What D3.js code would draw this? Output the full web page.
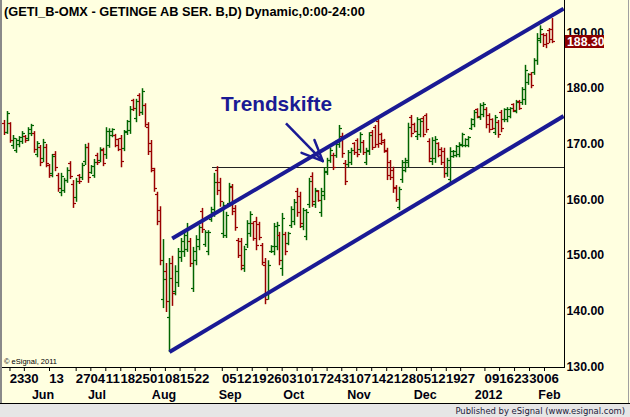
<!DOCTYPE html>
<html><head><meta charset="utf-8">
<script src="https://cdn.jsdelivr.net/npm/d3@7"></script>
<style>body{margin:0;background:#fff}svg{display:block}</style>
</head><body><svg id="c" width="630" height="417"></svg>
<script>
// ---------- DATA ----------
const high = [174.2,175.8,173.8,171.5,170.9,171.3,172.2,171.5,172.9,173.5,
172.2,170.4,169.7,170.8,169.9,166.3,168.1,168.6,164.7,164.7,
163.8,165.7,166.8,163.4,163.8,164.5,166.5,169.9,170.1,166.1,
167.2,168.3,169.3,169.2,172.9,172.7,172.7,171.7,170.9,171.5,
172.4,174.2,176.7,178.0,178.0,179.0,179.9,177.2,173.8,170.6,
165.6,161.3,158.7,152.8,148.5,149.4,149.8,148.1,151.2,153.0,
154.4,155.7,153.0,151.4,153.5,155.3,158.4,154.4,154.4,158.6,
164.7,165.9,163.8,159.5,157.7,162.9,162.7,158.9,153.0,153.0,
151.6,156.2,157.8,156.0,156.8,155.9,152.1,149.4,149.0,151.7,
155.7,155.9,154.1,157.5,154.1,154.1,158.7,160.0,162.0,161.3,
158.4,158.2,163.8,164.8,162.0,161.6,162.0,165.7,167.4,169.2,
168.3,170.6,173.3,171.9,167.0,168.8,169.2,170.2,170.9,172.0,
170.6,169.2,172.0,172.4,173.3,174.7,171.9,170.8,169.2,167.0,
165.8,162.5,162.2,167.0,167.4,173.7,175.1,173.7,174.7,174.5,
174.9,175.4,170.9,171.1,171.3,170.2,169.3,169.2,167.4,169.3,
168.8,169.7,170.2,171.9,170.9,171.3,174.5,176.0,176.3,177.2,
177.4,176.5,175.4,174.5,175.1,174.2,176.0,176.3,176.5,176.5,
177.2,177.8,177.8,180.1,184.1,182.6,182.8,185.3,189.8,191.2,
189.8,189.8,190.7,192.5];
const low = [171.5,171.7,170.1,169.0,168.3,169.3,169.9,170.1,170.4,171.3,
168.3,167.5,165.9,166.6,165.7,163.8,163.9,165.0,161.3,160.5,
161.1,162.9,163.6,158.4,159.5,162.7,163.4,166.1,162.9,164.5,
163.8,166.1,166.6,165.9,167.2,169.2,171.1,169.3,168.6,165.7,
168.6,171.5,171.7,175.8,173.8,174.9,175.1,172.9,167.9,164.8,
161.3,155.3,148.1,140.4,139.7,132.5,140.8,142.7,144.2,148.7,
149.6,150.5,147.8,143.3,148.1,150.8,153.9,151.4,149.9,155.9,
156.8,160.7,158.6,153.0,153.0,158.6,157.1,154.3,149.4,147.2,
146.9,151.2,153.2,152.5,150.8,152.6,148.1,141.1,141.9,150.3,
149.9,150.8,148.1,146.2,149.9,151.7,154.8,155.3,156.8,154.8,
154.4,152.6,158.4,158.6,158.4,159.5,156.8,159.8,164.3,166.5,
165.2,167.4,169.2,167.4,162.5,165.7,166.1,167.9,167.5,168.3,
167.9,166.1,167.9,168.8,169.2,169.2,169.7,168.3,163.4,163.4,
161.1,159.5,158.0,162.9,164.8,165.6,171.1,171.9,170.6,171.1,
171.1,171.9,166.6,166.1,166.5,167.5,166.1,163.8,164.0,162.5,
167.4,167.5,167.5,169.3,169.3,169.3,172.4,172.9,174.5,174.2,
174.7,172.7,171.9,172.4,171.5,171.0,172.0,173.8,173.8,174.5,
175.6,175.4,176.0,176.9,176.9,180.5,179.9,182.3,184.1,188.0,
187.3,187.1,188.0,188.0];
const open = [173.6,172.0,173.6,169.6,168.8,169.8,170.4,171.3,170.8,171.7,
171.8,168.0,169.2,167.2,169.3,166.0,164.5,168.0,164.2,161.2,
161.6,163.4,166.3,162.6,160.3,164.2,163.9,166.8,169.2,164.8,
164.3,167.9,167.0,168.7,168.0,169.7,171.4,171.4,170.6,170.9,
169.0,171.9,172.3,177.7,174.4,178.6,175.6,176.8,172.8,170.0,
165.2,160.8,158.0,142.0,147.0,138.8,148.5,143.3,145.0,149.5,
150.5,151.0,152.3,144.0,149.0,151.5,157.8,151.8,150.5,156.3,
157.5,165.2,163.0,153.8,153.5,159.2,162.0,158.3,152.5,152.3,
147.5,151.8,153.8,155.6,156.0,155.5,151.6,148.0,142.8,150.5,
150.6,151.5,153.5,147.5,153.6,152.0,155.3,155.9,161.3,160.5,
155.0,153.3,159.0,164.0,159.0,161.3,157.5,160.6,164.8,166.9,
167.9,167.9,169.8,171.2,166.4,166.2,166.6,169.9,170.5,168.9,
170.2,166.6,168.5,172.0,172.8,174.0,171.6,170.5,168.5,166.6,
165.2,162.1,158.5,163.5,165.2,166.5,174.7,173.4,171.2,171.5,
174.5,175.0,170.4,166.8,167.2,169.9,168.9,168.5,164.5,163.5,
167.6,167.9,168.0,169.7,169.6,169.6,172.7,173.4,176.1,174.6,
175.1,176.0,175.0,174.2,172.0,173.8,175.5,174.2,174.3,174.9,
177.0,175.8,177.5,177.3,177.8,180.9,182.4,182.8,184.8,188.5,
189.5,189.3,190.2,190.5];
const close = [171.9,175.3,170.5,170.9,170.5,171.0,171.8,170.5,172.4,173.2,
168.9,169.9,166.6,170.1,166.4,164.2,167.6,165.6,161.8,164.0,
163.4,165.2,164.1,159.2,163.2,163.1,166.0,169.3,163.8,165.8,
166.6,166.5,168.9,166.4,172.1,172.2,172.4,169.7,168.9,166.7,
172.1,173.9,176.1,176.2,177.5,175.5,179.3,173.4,168.6,165.5,
161.9,156.0,149.0,145.5,141.5,145.8,143.0,147.0,150.5,152.3,
153.5,154.8,148.5,150.5,152.7,154.8,154.5,154.0,153.9,158.1,
163.0,161.6,159.5,158.8,157.0,162.3,157.8,154.9,149.8,148.0,
151.0,155.6,157.2,152.9,151.6,153.0,148.6,142.0,148.0,151.4,
155.0,155.2,149.0,156.5,150.5,153.8,158.2,159.3,157.5,155.6,
157.9,157.5,163.1,159.5,161.5,159.8,161.3,165.0,166.9,168.7,
165.7,170.2,172.6,168.2,163.2,168.3,168.7,168.3,168.0,171.5,
168.3,168.7,171.4,169.3,169.8,170.0,170.1,168.7,164.2,163.9,
161.8,159.9,161.7,166.5,167.0,172.8,171.7,172.2,174.2,174.0,
171.6,172.4,167.2,170.5,170.7,167.9,166.6,164.6,167.0,168.5,
168.6,169.4,169.8,171.5,170.6,171.0,174.2,175.5,174.8,176.8,
177.0,173.3,172.4,172.7,174.7,171.5,172.6,176.0,176.1,176.2,
175.9,177.4,176.3,179.6,183.0,182.3,180.4,184.9,188.9,190.5,
187.8,187.9,188.6,188.3];

const priceTicks = [130,140,150,160,170,180,190];
const dayLabels = ["23","30","13","27","04","11","18","25","01","08","15","22",
  "05","12","19","26","03","10","17","24","31","07","14","21","28","05","12","19","27",
  "09","16","23","30","06"];
const dayIndex = [4,8.8,17.2,26.1,31,36,41,45.9,50.9,55.9,60.8,65.8,
  74.9,79.9,84.9,89.9,94.9,99.9,104.9,109.9,114.8,119.8,124.8,129.8,134.8,139.8,144.7,149.7,154.5,
  162.6,167.5,172.5,177.5,182.5];
const monthLabels = ["Jun","Jul","Aug","Sep","Oct","Nov","Dec","2012","Feb"];
const monthIndex = [12.7,30.7,53.1,75.2,96.4,118.2,140.3,161.5,181.8];
const lastPrice = 188.30;
const upperChannel = [[56,152.9],[186.7,194.2]];   // [bar index, price]
const lowerChannel = [[55.1,132.5],[186.7,174.9]];
const breakLevel = {from:69.3, price:165.6};
const arrowShaft = [[94,173.6],[106.3,166.8]];
const arrowHeadA = [103.5,170.6];
const arrowHeadB = [99.2,168.3];
const titleText = "(GETI_B-OMX - GETINGE AB SER. B,D) Dynamic,0:00-24:00";
const noteText = "Trendskifte";

// ---------- LAYOUT ----------
const W=630, H=417;
const plot = {left:2, top:0, right:564, bottom:367};
const UP="#006400", DOWN="#990000", NAVY="#1a1a94";
const FONT="Liberation Sans, Arial, sans-serif";
const svg = d3.select("#c");
svg.append("rect").attr("width",W).attr("height",H).attr("fill","#FFFFE0");

const x = d3.scaleLinear().domain([0,183]).range([4.5,552.5]);
const y = d3.scaleLinear().domain([130,190]).range([366,32]);
const px = v => Math.round(x(v)-0.5)+0.5;
const py = v => Math.round(y(v)-0.5)+0.5;

svg.append("clipPath").attr("id","clip").append("rect")
  .attr("x",plot.left).attr("y",plot.top).attr("width",plot.right-plot.left).attr("height",plot.bottom-plot.top);
const g = svg.append("g").attr("clip-path","url(#clip)");

// break level line
g.append("line").attr("x1",x(breakLevel.from)).attr("x2",plot.right)
  .attr("y1",py(breakLevel.price)).attr("y2",py(breakLevel.price))
  .attr("stroke","#222").attr("stroke-width",1).attr("shape-rendering","crispEdges");

// bars
const idx = d3.range(high.length);
const bars = g.append("g");
idx.forEach(i=>{
  const c = close[i]>=open[i]?UP:DOWN;
  const xc = px(i);
  bars.append("line").attr("x1",xc).attr("x2",xc).attr("y1",y(high[i])).attr("y2",y(low[i])).attr("stroke",c).attr("stroke-width",1.5);
  bars.append("line").attr("x1",xc-2.5).attr("x2",xc).attr("y1",py(open[i])).attr("y2",py(open[i])).attr("stroke",c).attr("stroke-width",1.2);
  bars.append("line").attr("x1",xc).attr("x2",xc+2.5).attr("y1",py(close[i])).attr("y2",py(close[i])).attr("stroke",c).attr("stroke-width",1.2);
});

// channel lines
[upperChannel,lowerChannel].forEach(l=>{
  g.append("line").attr("x1",x(l[0][0])).attr("y1",y(l[0][1])).attr("x2",x(l[1][0])).attr("y2",y(l[1][1]))
   .attr("stroke",NAVY).attr("stroke-width",4).attr("stroke-linecap","butt");
});

// arrow
const tip = arrowShaft[1];
g.append("line").attr("x1",x(arrowShaft[0][0])).attr("y1",y(arrowShaft[0][1])).attr("x2",x(tip[0])).attr("y2",y(tip[1]))
  .attr("stroke",NAVY).attr("stroke-width",2.5);
[arrowHeadA,arrowHeadB].forEach(h=>{
  g.append("line").attr("x1",x(h[0])).attr("y1",y(h[1])).attr("x2",x(tip[0])).attr("y2",y(tip[1]))
   .attr("stroke",NAVY).attr("stroke-width",2.5).attr("stroke-linecap","round");
});

// note text
const note = svg.append("text").attr("x",221).attr("y",111).text(noteText)
  .attr("font-family",FONT).attr("font-weight","bold")
  .attr("font-size",21).attr("fill",NAVY);
{ const w=note.node().getComputedTextLength(); note.attr("font-size",21*111/w); }

// title
const title = svg.append("text").attr("x",4).attr("y",16).text(titleText)
  .attr("font-family",FONT).attr("font-weight","bold")
  .attr("font-size",12.5).attr("fill","#000");
{ const w=title.node().getComputedTextLength(); title.attr("font-size",12.5*361/w); }

// frame
svg.append("line").attr("x1",plot.right+0.5).attr("x2",plot.right+0.5).attr("y1",0).attr("y2",plot.bottom+1).attr("stroke","#000");
svg.append("line").attr("x1",plot.left).attr("x2",plot.right+1).attr("y1",plot.bottom+0.5).attr("y2",plot.bottom+0.5).attr("stroke","#000");
svg.append("rect").attr("x",0).attr("y",0).attr("width",2).attr("height",403).attr("fill","#8a8a8a");

// right axis
const ya = svg.append("g").attr("transform",`translate(${plot.right+0.5},0)`)
  .call(d3.axisRight(y).tickValues(priceTicks).tickFormat(d3.format(".2f")).tickSize(0).tickPadding(2));
ya.select(".domain").remove();
ya.selectAll("text").attr("font-family",FONT).attr("font-weight","bold")
  .attr("font-size",12.3).attr("fill","#000010").attr("dy","0.35em");

// last price badge (drawn over the 190.00 label, as in the original)
const lp = svg.append("g");
lp.append("rect").attr("x",565).attr("y",Math.round(y(lastPrice))-6).attr("width",39).attr("height",13).attr("fill","#8B0000");
lp.append("text").attr("x",567).attr("y",y(lastPrice)+0.5).attr("dy","0.35em").text(lastPrice.toFixed(2))
  .attr("font-family",FONT).attr("font-weight","bold").attr("font-size",12.3).attr("fill","#fff");

// bottom axis (days)
const xa = svg.append("g").attr("transform",`translate(0,${plot.bottom+1})`)
  .call(d3.axisBottom(x).tickValues(dayIndex).tickFormat((d,i)=>dayLabels[i]).tickSize(3).tickPadding(0));
xa.select(".domain").remove();
xa.selectAll("line").attr("stroke","#000").attr("transform","translate(-7,0)");
xa.selectAll("text").attr("y",15).attr("dy",0).attr("font-family",FONT)
  .attr("font-weight","bold").attr("font-size",13.2).attr("fill","#000010");

// months
const ma = svg.append("g").attr("transform",`translate(0,${plot.bottom+1})`)
  .call(d3.axisBottom(x).tickValues(monthIndex).tickFormat((d,i)=>monthLabels[i]).tickSize(0));
ma.select(".domain").remove();
ma.selectAll("text").attr("y",31).attr("dy",0).attr("font-family",FONT)
  .attr("font-weight","bold").attr("font-size",12.5).attr("fill","#000010");

// copyright
svg.append("text").attr("x",4).attr("y",364).text("© eSignal, 2011")
  .attr("font-family",FONT).attr("font-size",7.5).attr("fill","#000");

// published strip
svg.append("rect").attr("x",0).attr("y",404).attr("width",W).attr("height",13).attr("fill","#E6E6E6");
svg.append("line").attr("x1",0).attr("x2",W).attr("y1",403.5).attr("y2",403.5).attr("stroke","#000");
svg.append("line").attr("x1",628.5).attr("x2",628.5).attr("y1",0).attr("y2",403).attr("stroke","#a0a0a0");
const pub = svg.append("text").attr("x",625).attr("y",414).attr("text-anchor","end")
  .text("Published by eSignal (www.esignal.com)")
  .attr("font-family","DejaVu Sans, sans-serif").attr("font-size",10).attr("fill","#1a1a3a");
{ const w=pub.node().getComputedTextLength(); pub.attr("font-size",10*170/w); }
</script></body></html>
